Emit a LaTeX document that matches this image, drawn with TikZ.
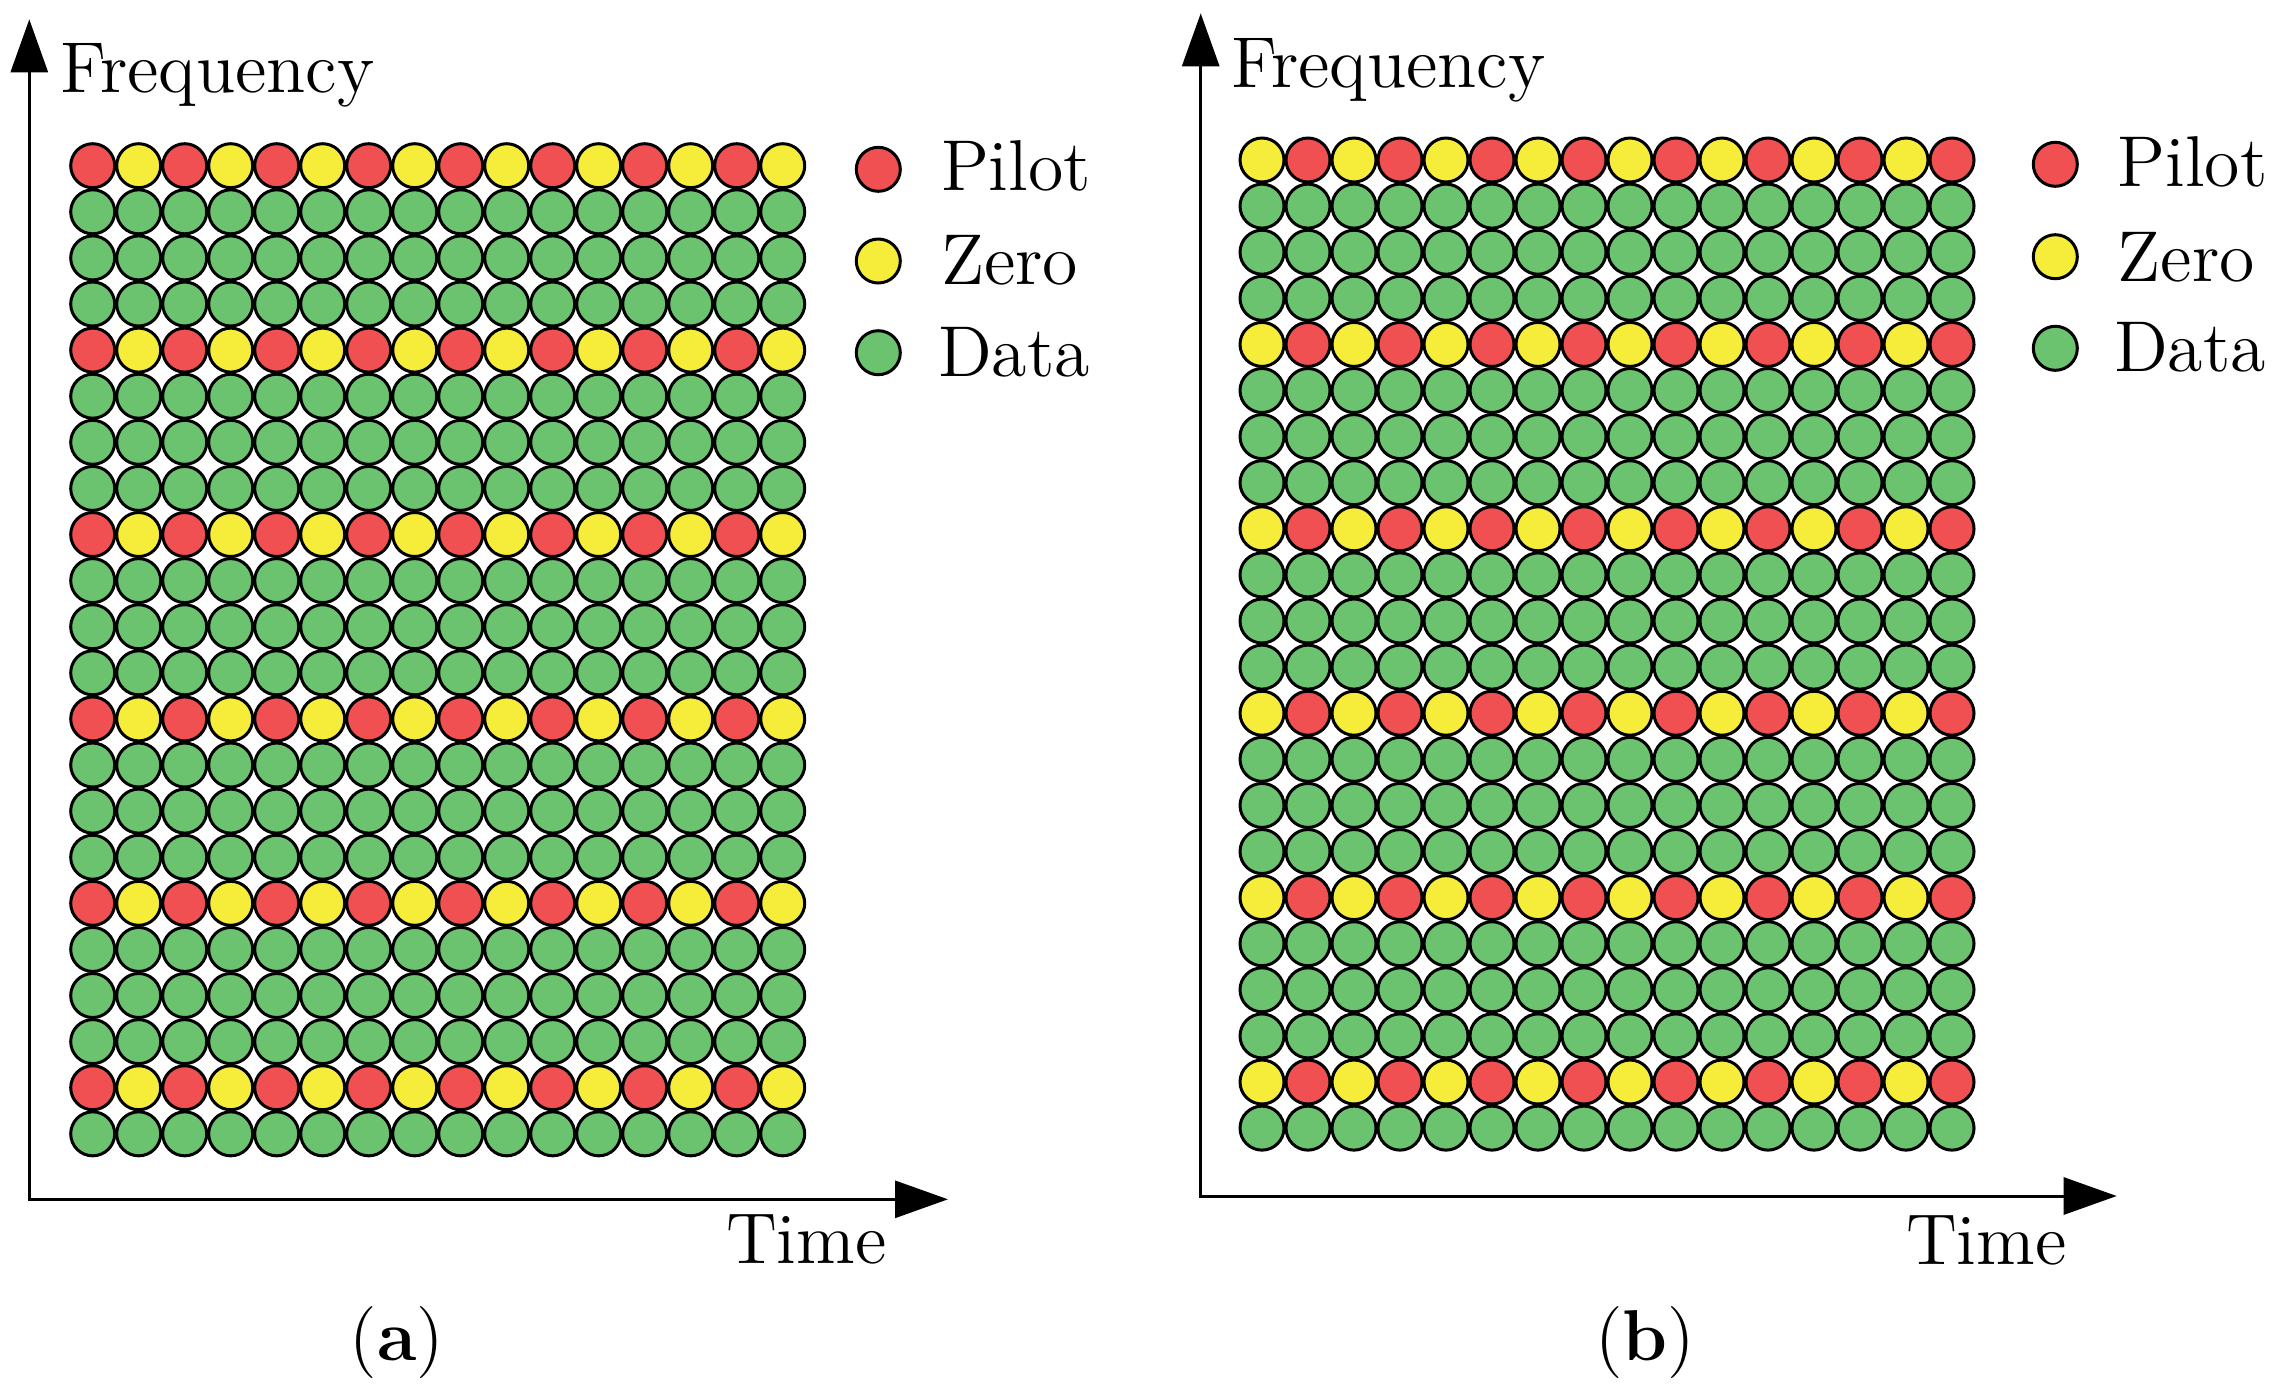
\documentclass[tikz,border=0pt]{standalone}
\usetikzlibrary{arrows.meta}
\definecolor{pilotred}{RGB}{240,80,82}
\definecolor{zeroyel}{RGB}{245,237,58}
\definecolor{datagrn}{RGB}{107,195,111}
\tikzset{
  re/.style={circle,draw=black,line width=0.6pt,minimum size=8.8pt,inner sep=0pt},
  lbl/.style={inner sep=0pt,font=\fontsize{14.4}{17}\selectfont},
  axis/.style={line width=0.6pt,{Triangle[length=10.6pt,width=7.4pt]}-{Triangle[length=10.6pt,width=7.4pt]}}
}
\begin{document}
\begin{tikzpicture}[x=0.2pt,y=-0.2pt]
\useasboundingbox (0,0) rectangle (2277,1387);
% grids
\foreach \r in {0,...,21}{
  \foreach \c in {0,...,15}{
    \pgfmathtruncatemacro{\pr}{mod(\r,4)==0 ? 1 : 0}
    \pgfmathtruncatemacro{\ev}{mod(\c,2)==0 ? 1 : 0}
    \ifnum\pr=1
      \ifnum\ev=1 \def\ca{pilotred}\def\cb{zeroyel}\else\def\ca{zeroyel}\def\cb{pilotred}\fi
    \else
      \def\ca{datagrn}\def\cb{datagrn}
    \fi
    \node[re,fill=\ca] (a-\r-\c) at ({92.7+46*\c},{165.7+46.1*\r}) {};
    \node[re,fill=\cb] (b-\r-\c) at ({1262+46*\c},{160+46.1*\r}) {};
  }
}
% axes (a)
\coordinate (a-o) at (29.3,1199.3);
\coordinate (a-y) at (29.3,19.3);
\coordinate (a-x) at (948,1199.3);
\draw[axis] (a-y) -- (a-o) -- (a-x);
% axes (b)
\coordinate (b-o) at (1200.7,1196);
\coordinate (b-y) at (1200.7,13.3);
\coordinate (b-x) at (2116.7,1196);
\draw[axis] (b-y) -- (b-o) -- (b-x);
% axis labels
\node[lbl,anchor=base west] (a-freq) at (59,92) {Frequency};
\node[lbl,anchor=base west] (a-time) at (725,1263.3) {Time};
\node[lbl,anchor=base west] (b-freq) at (1230,87.3) {Frequency};
\node[lbl,anchor=base west] (b-time) at (1905,1264.3) {Time};
% legend (a)
\node[re,fill=pilotred] (a-lp) at (878.3,169.3) {};
\node[re,fill=zeroyel] (a-lz) at (878.3,261) {};
\node[re,fill=datagrn] (a-ld) at (878.3,352.7) {};
\node[lbl,anchor=base west] (a-lpt) at (940,190.7) {Pilot};
\node[lbl,anchor=base west] (a-lzt) at (940,284.3) {Zero};
\node[lbl,anchor=base west] (a-ldt) at (937,376.7) {Data};
% legend (b)
\node[re,fill=pilotred] (b-lp) at (2055.3,164.3) {};
\node[re,fill=zeroyel] (b-lz) at (2055.3,256.7) {};
\node[re,fill=datagrn] (b-ld) at (2055.3,348.3) {};
\node[lbl,anchor=base west] (b-lpt) at (2116.7,186) {Pilot};
\node[lbl,anchor=base west] (b-lzt) at (2116.7,281) {Zero};
\node[lbl,anchor=base west] (b-ldt) at (2113,371.7) {Data};
% captions
\node[lbl,anchor=base] (cap-a) at (397,1360) {(\textbf{a})};
\node[lbl,anchor=base] (cap-b) at (1645,1360) {(\textbf{b})};
\end{tikzpicture}
\end{document}
